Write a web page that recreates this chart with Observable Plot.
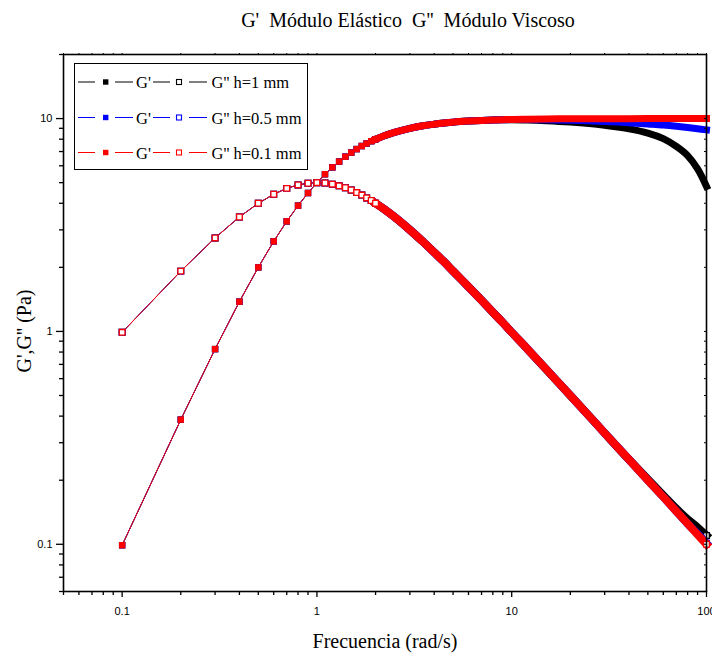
<!DOCTYPE html>
<html><head><meta charset="utf-8">
<script src="https://cdn.jsdelivr.net/npm/d3@7"></script>
<script src="https://cdn.jsdelivr.net/npm/@observablehq/plot@0.6"></script>
<style>
body{margin:0;background:#fff;}
#wrap{position:relative;width:712px;height:657px;overflow:hidden;background:#fff;}
.serif{font-family:"Liberation Serif","Times New Roman",serif;color:#000;white-space:nowrap;position:absolute;}
#title{left:408px;top:9px;transform:translateX(-50%);font-size:20px;}
#xlabel{left:385px;top:630px;transform:translateX(-50%);font-size:20px;}
#ylabel{left:24px;top:331px;transform:translate(-50%,-50%) rotate(-90deg);font-size:20px;}
#chart{position:absolute;left:0;top:40px;}
#legend{position:absolute;left:74px;top:63px;}
</style></head><body>
<div id="wrap">
  <div id="title" class="serif">G'&nbsp; Módulo Elástico&nbsp; G''&nbsp; Módulo Viscoso</div>
  <div id="chart"></div>
  <div id="legend"></div>
  <div id="xlabel" class="serif">Frecuencia (rad/s)</div>
  <div id="ylabel" class="serif">G',G'' (Pa)</div>
</div>
<script>
// Frequencies (rad/s)
const freq = [0.1,0.2,0.3,0.4,0.5,0.6,0.7,0.8,0.9,1,1.1,1.2,1.3,1.4,1.5,1.6,1.7,1.8,1.9,2,
  2.2,2.5,3,3.5,4,4.5,5,6,7,8,9,10,
  12,15,20,25,30,40,50,60,70,80,90,100];

// h = 1 mm
const gp_h1 = [0.099,0.385,0.826,1.38,2.0,2.65,3.29,3.9,4.47,5.0,5.48,5.9,6.28,6.62,6.92,7.19,7.43,7.64,7.83,8.0,
  8.29,8.62,9.0,9.25,9.41,9.53,9.62,9.73,9.8,9.85,9.87,9.88,
  9.85,9.78,9.64,9.48,9.3,8.95,8.55,8.05,7.4,6.7,5.8,4.8];
const gpp_h1 = [0.99,1.92,2.75,3.45,4.0,4.41,4.7,4.88,4.97,5.0,4.98,4.92,4.83,4.73,4.62,4.49,4.37,4.24,4.12,4.0,
  3.77,3.45,3.0,2.64,2.35,2.12,1.92,1.62,1.4,1.23,1.1,0.99,
  0.83,0.665,0.5,0.4,0.333,0.25,0.202,0.17,0.147,0.131,0.12,0.11];

// h = 0.5 mm
const gp_h05 = [0.099,0.385,0.826,1.38,2.0,2.65,3.29,3.9,4.47,5.0,5.48,5.9,6.28,6.62,6.92,7.19,7.43,7.64,7.83,8.0,
  8.29,8.62,9.0,9.25,9.41,9.53,9.62,9.73,9.8,9.85,9.88,9.89,
  9.9,9.87,9.82,9.76,9.7,9.56,9.43,9.32,9.2,9.08,8.96,8.85];
const gpp_h05 = [0.99,1.92,2.75,3.45,4.0,4.41,4.7,4.88,4.97,5.0,4.98,4.92,4.83,4.73,4.62,4.49,4.37,4.24,4.12,4.0,
  3.77,3.45,3.0,2.64,2.35,2.12,1.92,1.62,1.4,1.23,1.1,0.99,
  0.83,0.665,0.5,0.4,0.333,0.25,0.2,0.167,0.143,0.125,0.112,0.101];

// h = 0.1 mm
const gp_h01 = [0.099,0.385,0.826,1.38,2.0,2.65,3.29,3.9,4.47,5.0,5.48,5.9,6.28,6.62,6.92,7.19,7.43,7.64,7.83,8.0,
  8.29,8.62,9.0,9.25,9.41,9.53,9.62,9.73,9.8,9.85,9.88,9.9,
  9.93,9.96,9.98,9.98,9.99,9.99,10,10,10,10,10,10];
const gpp_h01 = [0.99,1.92,2.75,3.45,4.0,4.41,4.7,4.88,4.97,5.0,4.98,4.92,4.83,4.73,4.62,4.49,4.37,4.24,4.12,4.0,
  3.77,3.45,3.0,2.64,2.35,2.12,1.92,1.62,1.4,1.23,1.1,0.99,
  0.83,0.665,0.5,0.4,0.333,0.25,0.2,0.167,0.143,0.125,0.111,0.1];

const seriesNames = ["h=1 mm","h=0.5 mm","h=0.1 mm"];
const seriesColors = ["#000000","#0000ff","#ff0000"];

const xMajor = [0.1,1,10,100];
const xMinor = [0.05,0.06,0.07,0.08,0.09,0.2,0.3,0.4,0.5,0.6,0.7,0.8,0.9,2,3,4,5,6,7,8,9,20,30,40,50,60,70,80,90];
const yMajor = [0.1,1,10];
const yMinor = [0.06,0.07,0.08,0.09,0.2,0.3,0.4,0.5,0.6,0.7,0.8,0.9,2,3,4,5,6,7,8,9,20];

const gpSets = [gp_h1, gp_h05, gp_h01];
const gppSets = [gpp_h1, gpp_h05, gpp_h01];

const marks = [];
seriesNames.forEach((name, si) => {
  const color = seriesColors[si];
  const gp = freq.map((f, i) => ({f, v: gpSets[si][i]}));
  const gpp = freq.map((f, i) => ({f, v: gppSets[si][i]}));
  const bandStart = 2;
  marks.push(
    Plot.line(gp, {x:"f", y:"v", stroke:color, strokeWidth:1}),
    Plot.line(gpp, {x:"f", y:"v", stroke:color, strokeWidth:1}),
    Plot.line(gp.filter(d => d.f >= bandStart), {x:"f", y:"v", stroke:color, strokeWidth:7, curve:"catmull-rom", strokeLinecap:"square"}),
    Plot.line(gpp.filter(d => d.f >= bandStart), {x:"f", y:"v", stroke:color, strokeWidth:8, curve:"catmull-rom", strokeLinecap:"square"}),
    Plot.dot(gp.filter(d => d.f <= bandStart), {x:"f", y:"v", symbol:"square", r:3.6, fill:color, stroke:"none"}),
    Plot.dot(gpp.filter(d => d.f <= bandStart || d.f === 100), {x:"f", y:"v", symbol:"square", r:3.2, fill:"white", stroke:color, strokeWidth:1.3})
  );
});

const fmt = d => String(d);
const chart = Plot.plot({
  width: 712,
  height: 617,
  marginTop: 14,
  marginBottom: 66,
  marginLeft: 63,
  marginRight: 6,
  style: {fontFamily: "'Liberation Sans', Arial, sans-serif", fontSize: "11px", color: "#000", background: "#fff"},
  x: {type: "log", domain: [0.05, 100]},
  y: {type: "log", domain: [0.06, 20]},
  marks: [
    ...marks,
    Plot.frame({stroke: "#000", strokeWidth: 1.6}),
    Plot.axisX(xMajor, {anchor: "bottom", tickSize: 6, tickPadding: 10, tickFormat: fmt, label: null, strokeWidth: 1.3}),
    Plot.axisX(xMinor, {anchor: "bottom", tickSize: 4, tickFormat: () => "", label: null, strokeWidth: 1.3}),
    Plot.axisX([...xMajor, ...xMinor], {anchor: "top", tickSize: 2, tickFormat: () => "", label: null}),
    Plot.axisY(yMajor, {anchor: "left", tickSize: 7, tickPadding: 4, tickFormat: fmt, label: null, strokeWidth: 1.3}),
    Plot.axisY(yMinor, {anchor: "left", tickSize: 4, tickFormat: () => "", label: null, strokeWidth: 1.3}),
    Plot.axisY([...yMajor, ...yMinor], {anchor: "right", tickSize: -3, tickFormat: () => "", label: null})
  ]
});
document.getElementById("chart").appendChild(chart);

// Legend (decoration)
const lw = 234, lh = 107;
const leg = d3.select("#legend").append("svg").attr("width", lw).attr("height", lh);
leg.append("rect").attr("x", 0.5).attr("y", 0.5).attr("width", lw - 1).attr("height", lh - 1)
  .attr("fill", "white").attr("stroke", "#000").attr("stroke-width", 1);
const rowY = [19, 54.5, 89.5];
seriesNames.forEach((name, i) => {
  const c = seriesColors[i], y = rowY[i];
  const g = leg.append("g");
  [[4,21],[41,59],[79,96],[115,133]].forEach(([a,b]) =>
    g.append("line").attr("x1", a).attr("x2", b).attr("y1", y).attr("y2", y).attr("stroke", c).attr("stroke-width", 1));
  g.append("rect").attr("x", 31.7 - 2.7).attr("y", y - 2.7).attr("width", 5.4).attr("height", 5.4).attr("fill", c);
  g.append("rect").attr("x", 105 - 2.5).attr("y", y - 2.5).attr("width", 5).attr("height", 5).attr("fill", "white").attr("stroke", c).attr("stroke-width", 1.1);
  g.append("text").attr("x", 62).attr("y", y + 6).attr("font-family", "'Liberation Serif', serif").attr("font-size", 16.5).text("G'");
  g.append("text").attr("x", 137.5).attr("y", y + 6).attr("font-family", "'Liberation Serif', serif").attr("font-size", 16.5).text("G'' " + name);
});
</script>
</body></html>
